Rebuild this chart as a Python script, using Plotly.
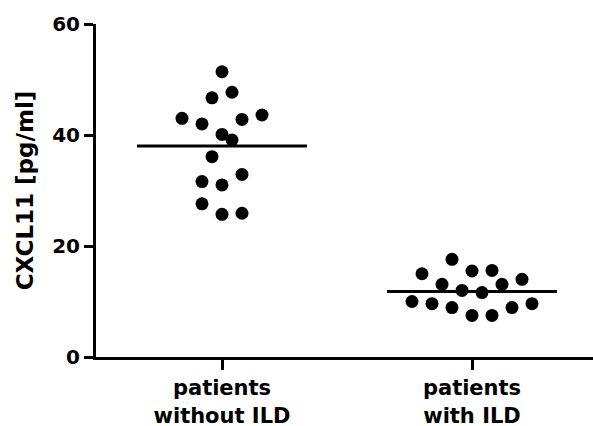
import plotly.graph_objects as go

categories = ["patients<br>without ILD", "patients<br>with ILD"]

# group 1: patients without ILD
g1_values = [51.4, 47.7, 46.7, 43.0, 42.0, 42.8, 43.6, 40.1, 39.1, 36.1, 32.9, 31.6, 31.0, 27.6, 25.7, 25.9]
g1_offsets = [0, 1, -1, -4, -2, 2, 4, 0, 1, -1, 2, -2, 0, -2, 0, 2]
g1_mean = 38.0

# group 2: patients with ILD
g2_values = [15.0, 17.6, 15.5, 15.6, 14.0, 13.1, 13.1, 12.0, 11.6, 10.0, 9.6, 8.9, 7.5, 7.5, 8.9, 9.6]
g2_offsets = [-5, -2, 0, 2, 5, -3, 3, -1, 1, -6, -4, -2, 0, 2, 4, 6]
g2_mean = 11.8

y_ticks = [0, 20, 40, 60]

STEP = 0.04
HALF = 0.34
FONT = "DejaVu Sans, Arial, sans-serif"

fig = go.Figure()
for i, (vals, offs, mean) in enumerate([(g1_values, g1_offsets, g1_mean),
                                         (g2_values, g2_offsets, g2_mean)]):
    fig.add_trace(go.Scatter(
        x=[i + o * STEP for o in offs], y=vals, mode="markers",
        marker=dict(size=13, color="black"), showlegend=False, hoverinfo="y"))
    fig.add_trace(go.Scatter(
        x=[i - HALF, i + HALF], y=[mean, mean], mode="lines",
        line=dict(color="black", width=3), showlegend=False, hoverinfo="skip"))

fig.update_layout(
    width=593, height=426,
    margin=dict(l=96, r=0, t=24, b=69, autoexpand=False),
    plot_bgcolor="white", paper_bgcolor="white",
    font=dict(family=FONT, color="black"),
    xaxis=dict(range=[-0.504, 1.484], tickvals=[0, 1], ticktext=categories,
               automargin=False,
               showline=True, linecolor="black", linewidth=3,
               ticks="outside", ticklen=10, tickwidth=3, tickcolor="black",
               showgrid=False, zeroline=False,
               tickfont=dict(size=21, family=FONT, weight="bold")),
    yaxis=dict(range=[0, 60], tickvals=y_ticks, automargin=False,
               showline=True, linecolor="black", linewidth=3,
               ticks="outside", ticklen=9, tickwidth=3, tickcolor="black",
               showgrid=False, zeroline=False,
               tickfont=dict(size=20, family=FONT, weight="bold"),
               title=dict(text="CXCL11 [pg/ml]", standoff=13,
                          font=dict(size=23, family=FONT, weight="bold"))),
)

fig.write_html("out.html", config={"displayModeBar": False},
               post_script="document.body.style.margin='0';")
